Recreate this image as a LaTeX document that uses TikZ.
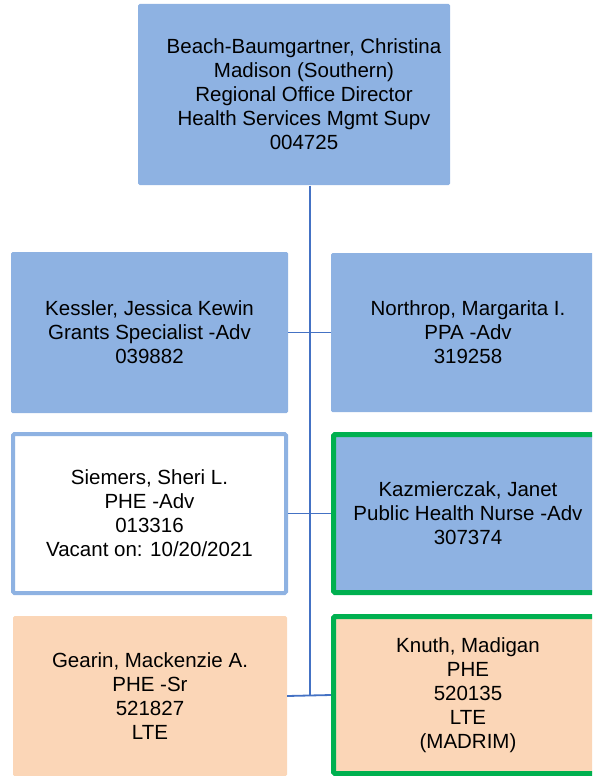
\documentclass[tikz,border=0pt]{standalone}
\usepackage{fontspec}
\setmainfont{Liberation Sans}
\usetikzlibrary{positioning}
\definecolor{orgblue}{RGB}{142,178,226}
\definecolor{orgline}{RGB}{68,114,196}
\definecolor{orggreen}{RGB}{0,176,80}
\definecolor{orgpeach}{RGB}{251,214,183}
\tikzset{
  box/.style={fill=orgblue, rounded corners=1.5pt, align=center, inner sep=0pt, font=\fontsize{20.5}{24}\selectfont},
  vacant/.style={box, fill=white, draw=orgblue, line width=4pt},
  newhire/.style={box, draw=orggreen, line width=5pt},
  lte/.style={box, fill=orgpeach},
  link/.style={draw=orgline, line width=1.8pt}
}
\begin{document}
\begin{tikzpicture}[x=1pt,y=-1pt]
    \useasboundingbox (0,0) rectangle (592,776);
    \clip (0,0) rectangle (592,776);
    \node[box, minimum width=312pt, minimum height=181pt] (director) at (294,94.5) {\hspace*{20pt}Beach-Baumgartner, Christina\\\hspace*{20pt}Madison (Southern)\\\hspace*{20pt}Regional Office Director\\\hspace*{20pt}Health Services Mgmt Supv\\\hspace*{20pt}004725};
    \node[box, minimum width=277pt, minimum height=161pt] (kessler) at (149.5,332.5) {Kessler, Jessica Kewin\\Grants Specialist -Adv\\039882};
    \node[box, minimum width=274pt, minimum height=159pt] (northrop) at (468,332.5) {Northrop, Margarita I.\\PPA -Adv\\319258};
    \node[vacant, minimum width=273pt, minimum height=159pt] (siemers) at (149.5,513.5) {Siemers, Sheri L.\\PHE -Adv\\013316\\Vacant on: 10/20/2021};
    \node[newhire, minimum width=269pt, minimum height=158pt] (kazmierczak) at (468,513.5) {Kazmierczak, Janet\\Public Health Nurse -Adv\\307374};
    \node[lte, minimum width=274pt, minimum height=160pt] (gearin) at (150,696) {Gearin, Mackenzie A.\\PHE -Sr\\521827\\LTE};
    \node[lte, newhire, fill=orgpeach, minimum width=269pt, minimum height=157pt] (knuth) at (468,695) {Knuth, Madigan\\PHE\\520135\\LTE\\(MADRIM)};
    \coordinate (trunktop) at (310,185.5);
    \coordinate (trunkend) at (310,695);
    \draw[link] (trunktop) -- (trunkend);
    \draw[link] (kessler.east) -- (northrop.west);
    \draw[link] (siemers.east) -- (kazmierczak.west);
    \draw[link] (gearin.east) -- (knuth.west);
  \end{tikzpicture}
\end{document}
